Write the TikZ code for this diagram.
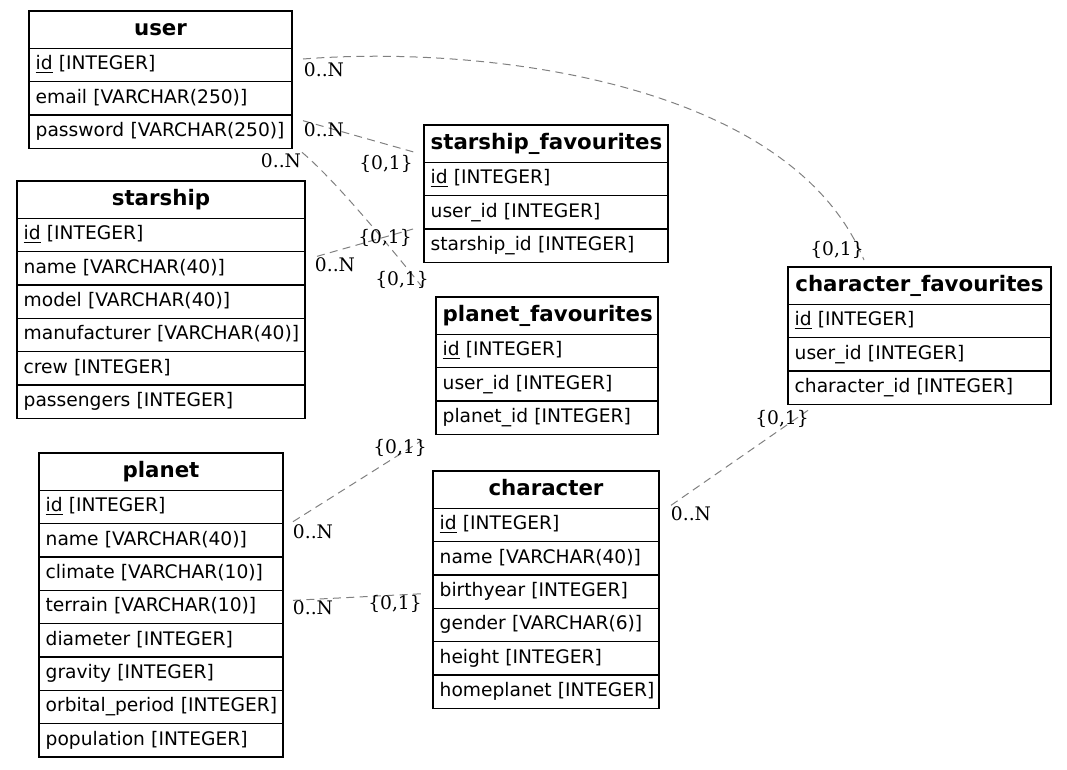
\documentclass[tikz,border=0pt]{standalone}
\usepackage{fontspec}
\newfontfamily\tblfont{DejaVu Sans}
\newfontfamily\lblfont{DejaVu Serif}
\usetikzlibrary{positioning, calc}
\definecolor{grisrel}{RGB}{128,128,128}

\tikzset{
  tblhead/.style={draw, line width=0.9pt, outer sep=0pt, inner xsep=5pt, text width=#1, align=center,
    minimum height=28pt, text height=12pt, text depth=4pt, font=\tblfont\fontsize{16}{19}\selectfont\bfseries},
  tblrow/.style={draw, line width=0.9pt, outer sep=0pt, inner xsep=5pt, text width=#1, align=left,
    minimum height=25pt, text height=11pt, text depth=4pt, font=\tblfont\fontsize{14}{17}\selectfont,
    execute at begin node={\hbox\bgroup}, execute at end node={\egroup}},
  rel/.style={grisrel, line width=0.75pt, dash pattern=on 6pt off 4pt},
  card/.style={font=\lblfont\fontsize{14}{17}\selectfont, inner sep=0pt}
}

\begin{document}
\begin{tikzpicture}[x=0.75pt, y=-0.75pt]
  \useasboundingbox (0,0) rectangle (1067,769);

  % Tabla user
  \node[tblhead=187.25pt, anchor=north west] (user-h) at (29,11) {user};
  \node[tblrow=187.25pt, below=0pt of user-h] (user-id) {\underline{id} [INTEGER]};
  \node[tblrow=187.25pt, below=0pt of user-id] (user-email) {email [VARCHAR(250)]};
  \node[tblrow=187.25pt, below=0pt of user-email] (user-pass) {password [VARCHAR(250)]};

  % Tabla starship
  \node[tblhead=206pt, anchor=north west] (ship-h) at (17,181) {starship};
  \node[tblrow=206pt, below=0pt of ship-h] (ship-id) {\underline{id} [INTEGER]};
  \node[tblrow=206pt, below=0pt of ship-id] (ship-name) {name [VARCHAR(40)]};
  \node[tblrow=206pt, below=0pt of ship-name] (ship-model) {model [VARCHAR(40)]};
  \node[tblrow=206pt, below=0pt of ship-model] (ship-manuf) {manufacturer [VARCHAR(40)]};
  \node[tblrow=206pt, below=0pt of ship-manuf] (ship-crew) {crew [INTEGER]};
  \node[tblrow=206pt, below=0pt of ship-crew] (ship-pass) {passengers [INTEGER]};

  % Tabla starship_favourites
  \node[tblhead=173pt, anchor=north west] (sfav-h) at (424,125) {starship\_favourites};
  \node[tblrow=173pt, below=0pt of sfav-h] (sfav-id) {\underline{id} [INTEGER]};
  \node[tblrow=173pt, below=0pt of sfav-id] (sfav-uid) {user\_id [INTEGER]};
  \node[tblrow=173pt, below=0pt of sfav-uid] (sfav-sid) {starship\_id [INTEGER]};

  % Tabla planet_favourites
  \node[tblhead=156.5pt, anchor=north west] (pfav-h) at (436,297) {planet\_favourites};
  \node[tblrow=156.5pt, below=0pt of pfav-h] (pfav-id) {\underline{id} [INTEGER]};
  \node[tblrow=156.5pt, below=0pt of pfav-id] (pfav-uid) {user\_id [INTEGER]};
  \node[tblrow=156.5pt, below=0pt of pfav-uid] (pfav-pid) {planet\_id [INTEGER]};

  % Tabla character_favourites
  \node[tblhead=187.25pt, anchor=north west] (cfav-h) at (788,267) {character\_favourites};
  \node[tblrow=187.25pt, below=0pt of cfav-h] (cfav-id) {\underline{id} [INTEGER]};
  \node[tblrow=187.25pt, below=0pt of cfav-id] (cfav-uid) {user\_id [INTEGER]};
  \node[tblrow=187.25pt, below=0pt of cfav-uid] (cfav-cid) {character\_id [INTEGER]};

  % Tabla planet
  \node[tblhead=173pt, anchor=north west] (planet-h) at (39,453) {planet};
  \node[tblrow=173pt, below=0pt of planet-h] (planet-id) {\underline{id} [INTEGER]};
  \node[tblrow=173pt, below=0pt of planet-id] (planet-name) {name [VARCHAR(40)]};
  \node[tblrow=173pt, below=0pt of planet-name] (planet-climate) {climate [VARCHAR(10)]};
  \node[tblrow=173pt, below=0pt of planet-climate] (planet-terrain) {terrain [VARCHAR(10)]};
  \node[tblrow=173pt, below=0pt of planet-terrain] (planet-diam) {diameter [INTEGER]};
  \node[tblrow=173pt, below=0pt of planet-diam] (planet-grav) {gravity [INTEGER]};
  \node[tblrow=173pt, below=0pt of planet-grav] (planet-orbit) {orbital\_period [INTEGER]};
  \node[tblrow=173pt, below=0pt of planet-orbit] (planet-pop) {population [INTEGER]};

  % Tabla character
  \node[tblhead=159.5pt, anchor=north west] (char-h) at (433,471) {character};
  \node[tblrow=159.5pt, below=0pt of char-h] (char-id) {\underline{id} [INTEGER]};
  \node[tblrow=159.5pt, below=0pt of char-id] (char-name) {name [VARCHAR(40)]};
  \node[tblrow=159.5pt, below=0pt of char-name] (char-birth) {birthyear [INTEGER]};
  \node[tblrow=159.5pt, below=0pt of char-birth] (char-gender) {gender [VARCHAR(6)]};
  \node[tblrow=159.5pt, below=0pt of char-gender] (char-height) {height [INTEGER]};
  \node[tblrow=159.5pt, below=0pt of char-height] (char-home) {homeplanet [INTEGER]};

  % Relaciones
  \draw[rel] ($(user-id.east)+(11,-6)$) .. controls +(177,-14) and +(-74,-180) .. ($(cfav-h.north west)+(76,-7)$);
  \draw[rel] ($(user-pass.east)+(11,-11)$) -- ($(sfav-h.west)+(-8,9)$);
  \draw[rel] ($(user-pass.south east)+(10,4)$) .. controls +(30,25) and +(-40,-50) .. ($(pfav-h.north west)+(-13,-9)$);
  \draw[rel] ($(ship-name.east)+(12,-12)$) -- ($(sfav-uid.south west)+(-11,0)$);
  \draw[rel] ($(planet-id.south east)+(10,-2)$) -- ($(pfav-pid.south west)+(-14,6)$);
  \draw[rel] ($(planet-terrain.north east)+(10,10)$) -- ($(char-birth.west)+(-10,2)$);
  \draw[rel] ($(char-h.south east)+(12,-3)$) -- ($(cfav-cid.south west)+(20,6)$);

  % Cardinalidades
  \node[card] (c1a) at (324,70) {0..N};
  \node[card] (c1b) at (837,250) {\{0,1\}};
  \node[card] (c2a) at (324,129.5) {0..N};
  \node[card] (c2b) at (386,164) {\{0,1\}};
  \node[card] (c3a) at (281,161) {0..N};
  \node[card] (c3b) at (402,280) {\{0,1\}};
  \node[card] (c4a) at (335,265) {0..N};
  \node[card] (c4b) at (385,238) {\{0,1\}};
  \node[card] (c5a) at (313,532) {0..N};
  \node[card] (c5b) at (400,448) {\{0,1\}};
  \node[card] (c6a) at (313,608) {0..N};
  \node[card] (c6b) at (395,604) {\{0,1\}};
  \node[card] (c7a) at (691,514) {0..N};
  \node[card] (c7b) at (782,419) {\{0,1\}};
\end{tikzpicture}
\end{document}
